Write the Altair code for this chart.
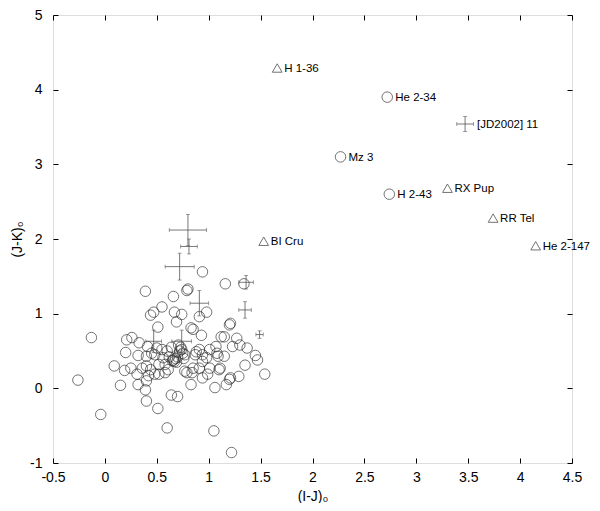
import altair as alt
import pandas as pd

# ---- unlabeled sample (open circles) ----
circ_x = [-0.26, -0.13, -0.04, 0.09, 0.15, 0.19, 0.20, 0.21, 0.26, 0.25,
          0.33, 0.32, 0.31, 0.32, 0.39, 0.40, 0.40, 0.41, 0.39, 0.40,
          0.42, 0.44, 0.47, 0.45, 0.48, 0.51, 0.51, 0.52, 0.50, 0.55,
          0.55, 0.58, 0.52, 0.56, 0.40, 0.36, 0.44, 0.48, 0.61, 0.58,
          0.60, 0.64, 0.66, 0.67, 0.69, 0.70, 0.74, 0.79, 0.80, 0.83,
          0.85, 0.84, 0.83, 0.79, 0.77, 0.91, 0.94, 0.93, 0.91, 0.94,
          0.98, 0.94, 0.99, 0.91, 0.87, 0.88, 0.98, 1.01, 0.85, 0.94,
          1.01, 1.06, 1.05, 1.07, 1.09, 1.12, 1.11, 1.15, 1.17, 1.16,
          1.20, 1.21, 1.22, 1.23, 1.21, 1.27, 1.29, 1.30, 1.34, 1.35,
          1.37, 1.45, 1.47, 1.54, 1.20, 1.10, 1.08, 1.15,
          0.66, 0.67, 0.68, 0.65, 0.70, 0.72, 0.73, 0.74, 0.75, 0.71,
          0.77, 0.76, 0.69, 0.62, 0.60, 0.64]
circ_y = [0.11, 0.68, -0.35, 0.30, 0.04, 0.24, 0.48, 0.65, 0.68, 0.27,
          0.61, 0.44, 0.19, 0.05, -0.02, -0.17, 0.10, 0.56, 1.30, 0.30,
          0.17, 0.98, 1.02, 0.47, 0.45, 0.82, -0.27, 0.19, 0.54, 1.09,
          0.52, 0.32, 0.32, 0.41, 0.43, 0.27, 0.25, 0.19, 0.25, 0.21,
          -0.53, -0.09, 1.23, 1.02, 0.89, -0.11, 0.99, 1.31, 1.33, 0.81,
          0.79, 0.21, 0.05, 0.21, 0.23, 0.96, 1.56, 0.71, 0.52, 0.45,
          1.02, 0.36, 0.19, 0.27, 0.45, 0.49, 0.41, 0.27, 0.27, 0.14,
          0.52, 0.01, -0.57, 0.56, 0.43, 0.69, 0.27, 0.43, 0.05, 1.40,
          0.85, 0.87, -0.86, 0.56, 0.14, 0.67, 0.16, 0.58, 1.40, 0.31,
          0.54, 0.44, 0.38, 0.19, 0.12, 0.25, 0.47, 0.69,
          0.38, 0.36, 0.40, 0.37, 0.42, 0.50, 0.55, 0.52, 0.47, 0.58,
          0.45, 0.40, 0.35, 0.42, 0.50, 0.55]

# ---- points with error bars ----
err_x = [0.80, 0.81, 0.72, 0.91, 1.35, 1.36, 1.49, 0.47, 0.74, 3.47]
err_y = [2.12, 1.90, 1.63, 1.14, 1.05, 1.42, 0.72, 0.63, 0.63, 3.54]
err_xe = [0.18, 0.08, 0.14, 0.09, 0.06, 0.07, 0.035, 0.075, 0.095, 0.08]
err_ye = [0.21, 0.10, 0.18, 0.17, 0.11, 0.09, 0.05, 0.15, 0.15, 0.10]

# ---- labelled objects ----
lab_name = ["H 1-36", "He 2-34", "[JD2002] 11", "Mz 3", "H 2-43",
            "RX Pup", "RR Tel", "BI Cru", "He 2-147"]
lab_x = [1.66, 2.72, 3.47, 2.27, 2.74, 3.30, 3.74, 1.53, 4.15]
lab_y = [4.29, 3.90, 3.54, 3.10, 2.60, 2.68, 2.28, 1.97, 1.91]
lab_kind = ["triangle", "circle", "cross", "circle", "circle",
            "triangle", "triangle", "triangle", "triangle"]

x_ticks = [-0.5, 0, 0.5, 1, 1.5, 2, 2.5, 3, 3.5, 4, 4.5]
y_ticks = [-1, 0, 1, 2, 3, 4, 5]

circ_df = pd.DataFrame({"x": circ_x, "y": circ_y})
err_df = pd.DataFrame({"x": err_x, "y": err_y, "xe": err_xe, "ye": err_ye})
lab_df = pd.DataFrame({"name": lab_name, "x": lab_x, "y": lab_y, "kind": lab_kind})

FONT = "Liberation Sans"
xs = alt.Scale(domain=[-0.5, 4.5], nice=False, zero=False)
ys = alt.Scale(domain=[-1, 5], nice=False, zero=False)

ax_bottom = alt.Axis(orient="bottom", values=x_ticks, labelExpr="'' + datum.value",
                     tickSize=5, offset=-5, labelPadding=7, labelFontSize=14,
                     labelFlush=False, title="(I-J)\u2080", titleFontSize=14,
                     titleFontWeight="normal", titlePadding=5, domain=False,
                     grid=False, tickColor="#000", labelColor="#000",
                     labelFont=FONT, titleFont=FONT, titleColor="#000")
ax_left = alt.Axis(orient="left", values=y_ticks, labelExpr="'' + datum.value",
                   tickSize=5, offset=-5, labelPadding=11, labelFontSize=14,
                   labelFlush=False, title="(J-K)\u2080", titleFontSize=14,
                   titleFontWeight="normal", titlePadding=5, domain=False,
                   grid=False, tickColor="#000", labelColor="#000",
                   labelFont=FONT, titleFont=FONT, titleColor="#000")
ax_top = alt.Axis(orient="top", values=x_ticks, tickSize=5, offset=-5, labels=False,
                  title=None, domain=False, grid=False, tickColor="#000")
ax_right = alt.Axis(orient="right", values=y_ticks, tickSize=5, offset=-5, labels=False,
                    title=None, domain=False, grid=False, tickColor="#000")

circles = alt.Chart(circ_df).mark_point(
    shape="circle", filled=False, size=110, stroke="#222", strokeWidth=0.9
).encode(x=alt.X("x:Q", scale=xs, axis=ax_bottom),
         y=alt.Y("y:Q", scale=ys, axis=ax_left))

mirror = alt.Chart(circ_df).mark_point(opacity=0).encode(
    x=alt.X("x:Q", scale=xs, axis=ax_top),
    y=alt.Y("y:Q", scale=ys, axis=ax_right))

base_err = alt.Chart(err_df).transform_calculate(
    xlo="datum.x - datum.xe", xhi="datum.x + datum.xe",
    ylo="datum.y - datum.ye", yhi="datum.y + datum.ye")

ebar_color = "#555"
hbars = base_err.mark_rule(color=ebar_color, strokeWidth=0.8).encode(
    x=alt.X("xlo:Q", scale=xs, axis=None), x2="xhi:Q",
    y=alt.Y("y:Q", scale=ys, axis=None))
vbars = base_err.mark_rule(color=ebar_color, strokeWidth=0.8).encode(
    y=alt.Y("ylo:Q", scale=ys, axis=None), y2="yhi:Q",
    x=alt.X("x:Q", scale=xs, axis=None))
capl = base_err.mark_tick(color=ebar_color, thickness=0.8, size=4, orient="vertical").encode(
    x=alt.X("xlo:Q", scale=xs, axis=None), y=alt.Y("y:Q", scale=ys, axis=None))
caph = base_err.mark_tick(color=ebar_color, thickness=0.8, size=4, orient="vertical").encode(
    x=alt.X("xhi:Q", scale=xs, axis=None), y=alt.Y("y:Q", scale=ys, axis=None))
capb = base_err.mark_tick(color=ebar_color, thickness=0.8, size=4, orient="horizontal").encode(
    x=alt.X("x:Q", scale=xs, axis=None), y=alt.Y("ylo:Q", scale=ys, axis=None))
capt = base_err.mark_tick(color=ebar_color, thickness=0.8, size=4, orient="horizontal").encode(
    x=alt.X("x:Q", scale=xs, axis=None), y=alt.Y("yhi:Q", scale=ys, axis=None))

lab_base = alt.Chart(lab_df)
enc_xy = dict(x=alt.X("x:Q", scale=xs, axis=None), y=alt.Y("y:Q", scale=ys, axis=None))

lab_circ = lab_base.transform_filter("datum.kind == 'circle'").mark_point(
    shape="circle", filled=False, size=110, stroke="#222", strokeWidth=0.9).encode(**enc_xy)
lab_tri = lab_base.transform_filter("datum.kind == 'triangle'").mark_point(
    shape="triangle-up", filled=False, size=95, stroke="#222", strokeWidth=0.9).encode(**enc_xy)
txt_circ = lab_base.transform_filter("datum.kind == 'circle'").mark_text(
    align="left", baseline="middle", dx=8, dy=1, font=FONT, fontSize=11.5, color="#000"
).encode(text="name:N", **enc_xy)
txt_tri = lab_base.transform_filter("datum.kind == 'triangle'").mark_text(
    align="left", baseline="middle", dx=7, dy=1, font=FONT, fontSize=11.5, color="#000"
).encode(text="name:N", **enc_xy)
txt_cross = lab_base.transform_filter("datum.kind == 'cross'").mark_text(
    align="left", baseline="middle", dx=12, dy=1, font=FONT, fontSize=11.5, color="#000"
).encode(text="name:N", **enc_xy)

chart = alt.layer(
    circles, mirror, hbars, vbars, capl, caph, capb, capt,
    lab_circ, lab_tri, txt_circ, txt_tri, txt_cross
).resolve_axis(x="independent", y="independent").properties(
    width=519, height=448,
    autosize=alt.AutoSizeParams(type="none"),
    padding={"left": 45, "top": 7, "right": 20, "bottom": 40},
).configure_view(stroke="#000", strokeWidth=1).configure(background="white")

chart.save("out.html", embed_options={"renderer": "svg", "actions": False})
